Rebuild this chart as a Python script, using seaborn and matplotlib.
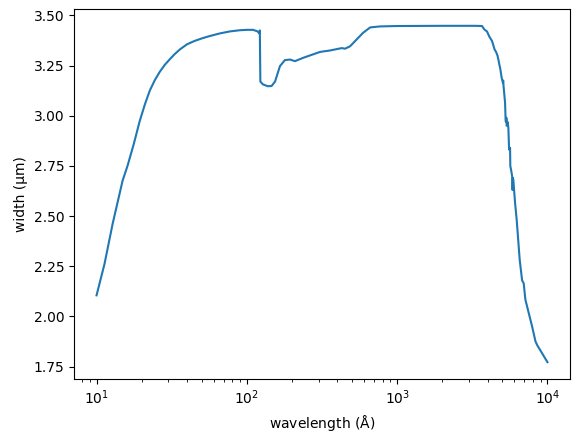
import matplotlib
matplotlib.use("Agg")
import matplotlib.pyplot as plt
import seaborn as sns
import pandas as pd

wavelength = [10, 11.3, 12.8, 14.9, 16.1, 17.7, 19.4, 21.0, 22.6, 24.4, 26.3, 28.4, 30.6, 33.1, 35.8, 40, 45,
              50.5, 56.6, 66, 77, 89.8,
              100, 110, 118, 121, 122, 123, 128, 138, 146, 154, 166, 179, 193.5, 209, 236, 307, 357,
              428, 450, 486, 593, 661, 770, 1000, 2000, 2630, 3300, 3670, 3800, 3960, 4100, 4280,
              4450, 4550, 4650, 4715, 4800, 4840, 4955, 5050, 5080, 5100, 5225, 5270, 5300, 5330,
              5360, 5420, 5495, 5555, 5600, 5640, 5660, 5760, 5845, 5860, 5880, 5930, 6090, 6240,
              6535, 6780, 6950, 7130, 7500, 7900, 8320, 8530, 10000]
width = [2.105, 2.262, 2.462, 2.676, 2.752, 2.86, 2.975, 3.058, 3.125, 3.177, 3.218, 3.253, 3.28, 3.307, 3.33, 3.356, 3.373,
         3.386, 3.397, 3.41, 3.42, 3.426,
         3.428, 3.428, 3.42, 3.41, 3.425, 3.17, 3.156, 3.147, 3.148, 3.17, 3.247, 3.277, 3.28, 3.272, 3.288, 3.318, 3.325,
         3.337, 3.334, 3.346, 3.413, 3.44, 3.445, 3.447, 3.448, 3.448, 3.448, 3.447, 3.43, 3.42, 3.395, 3.372,
         3.33, 3.318, 3.30, 3.28, 3.25, 3.24, 3.19, 3.165, 3.175, 3.15, 3.064, 2.973, 2.97, 2.99,
         2.95, 2.97, 2.94, 2.832, 2.83, 2.84, 2.75, 2.72, 2.69, 2.63, 2.69, 2.68, 2.565, 2.483,
         2.283, 2.18, 2.165, 2.084, 2.018, 1.951, 1.876, 1.858, 1.772]

df = pd.DataFrame({"wavelength": wavelength, "width": width})

fig = plt.figure(figsize=(5.8, 4.44), dpi=100)
ax = fig.add_axes([74/580, 1-379/444, (570-74)/580, (379-9)/444])
sns.lineplot(data=df, x="wavelength", y="width", ax=ax, estimator=None, sort=False,
             color="#1f77b4", linewidth=1.5)
ax.set_xscale("log")
ax.set_xlabel(r"wavelength ($\mathrm{\AA}$)")
ax.set_ylabel("width (µm)")
fig.savefig("out.png", dpi=100)
